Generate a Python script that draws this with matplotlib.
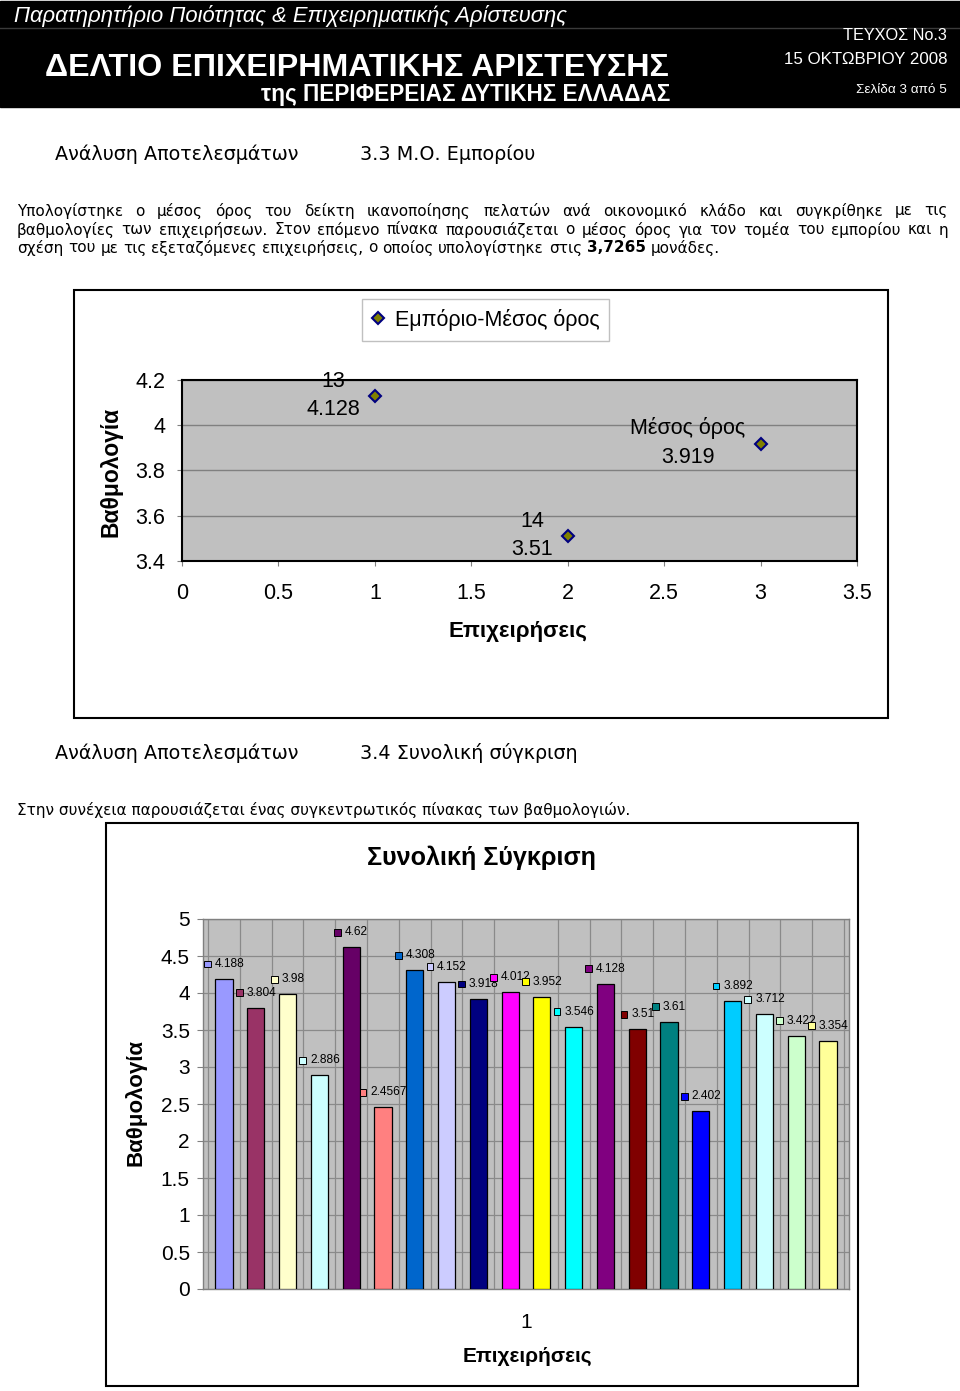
import numpy as np
import matplotlib
matplotlib.use('Agg')
import matplotlib.pyplot as plt
from matplotlib.patches import Rectangle
from matplotlib.lines import Line2D
from matplotlib.offsetbox import DrawingArea, TextArea, HPacker, AnnotationBbox

# ---------------- data ----------------
# chart 1 (scatter)
scatter_x = [1, 2, 3]
scatter_y = [4.128, 3.51, 3.919]
scatter_names = ["13", "14", "Μέσος όρος"]
scatter_value_labels = ["4.128", "3.51", "3.919"]
scatter_series = "Εμπόριο-Μέσος όρος"
c1_yticks = [3.4, 3.6, 3.8, 4.0, 4.2]
c1_ytick_labels = ["3.4", "3.6", "3.8", "4", "4.2"]
c1_xticks = [0, 0.5, 1, 1.5, 2, 2.5, 3, 3.5]
c1_xtick_labels = ["0", "0.5", "1", "1.5", "2", "2.5", "3", "3.5"]

# chart 2 (bars)
bar_values = [4.188, 3.804, 3.98, 2.886, 4.62, 2.4567, 4.308, 4.152, 3.918, 4.012,
              3.952, 3.546, 4.128, 3.51, 3.61, 2.402, 3.892, 3.712, 3.422, 3.354]
bar_labels = ["4.188", "3.804", "3.98", "2.886", "4.62", "2.4567", "4.308", "4.152", "3.918", "4.012",
              "3.952", "3.546", "4.128", "3.51", "3.61", "2.402", "3.892", "3.712", "3.422", "3.354"]
bar_colors = ["#9999FF", "#993366", "#FFFFCC", "#CCFFFF", "#660066", "#FF8080", "#0066CC", "#CCCCFF",
              "#000080", "#FF00FF", "#FFFF00", "#00FFFF", "#800080", "#800000", "#008080", "#0000FF",
              "#00CCFF", "#CCFFFF", "#CCFFCC", "#FFFF99"]
c2_yticks = [0, 0.5, 1, 1.5, 2, 2.5, 3, 3.5, 4, 4.5, 5]
c2_ytick_labels = ["0", "0.5", "1", "1.5", "2", "2.5", "3", "3.5", "4", "4.5", "5"]
c2_category = "1"

# ---------------- page setup ----------------
W, H, DPI = 960, 1391, 100
CHART = ['Liberation Sans', 'DejaVu Sans']
BODY = ['DejaVu Sans']
plt.rcParams['font.family'] = CHART

fig = plt.figure(figsize=(W / DPI, H / DPI), dpi=DPI)
fig.patch.set_facecolor('white')
renderer = fig.canvas.get_renderer()


def fx(x):
    return x / W


def fy(y):
    return 1 - y / H


def put(x, y, s, size, ha='left', va='center', target=None, **kw):
    t = fig.text(fx(x), fy(y), s, fontsize=size, ha=ha, va=va, **kw)
    if target:
        w = t.get_window_extent(renderer).width
        t.set_fontsize(size * target / w)
    return t


def box(x0, y0, x1, y1, **kw):
    fig.add_artist(Rectangle((fx(x0), fy(y1)), (x1 - x0) / W, (y1 - y0) / H,
                             transform=fig.transFigure, **kw))


# ---------------- header ----------------
box(0, 1, 960, 107, color='black', zorder=0)
fig.add_artist(Line2D([0, 1], [fy(28), fy(28)], transform=fig.transFigure, color='#3a3a3a', lw=1))
put(14, 16, "Παρατηρητήριο Ποιότητας & Επιχειρηματικής Αρίστευσης", 14, style='italic',
    color='white', family=CHART, target=554)
put(45, 68, "ΔΕΛΤΙΟ ΕΠΙΧΕΙΡΗΜΑΤΙΚΗΣ ΑΡΙΣΤΕΥΣΗΣ", 20, weight='bold', color='white',
    family=CHART, target=625)
put(670, 95, "της ΠΕΡΙΦΕΡΕΙΑΣ ΔΥΤΙΚΗΣ ΕΛΛΑΔΑΣ", 14, ha='right', weight='bold', color='white',
    family=CHART, target=410)
put(947, 36, "ΤΕΥΧΟΣ No.3", 12, ha='right', color='white', family=CHART, target=104)
put(947, 60, "15 ΟΚΤΩΒΡΙΟΥ 2008", 12, ha='right', color='white', family=CHART, target=164)
put(947, 90, "Σελίδα 3 από 5", 9, ha='right', color='white', family=CHART, target=90)

# ---------------- section texts ----------------
h = put(55, 154, "Ανάλυση Αποτελεσμάτων", 14, family=BODY, target=245)
hs = h.get_fontsize()
put(360, 154, "3.3 Μ.Ο. Εμπορίου", hs, family=BODY)
put(55, 753, "Ανάλυση Αποτελεσμάτων", hs, family=BODY)
put(360, 753, "3.4 Συνολική σύγκριση", hs, family=BODY)

b = put(17, 810, "Στην συνέχεια παρουσιάζεται ένας συγκεντρωτικός πίνακας των βαθμολογιών.",
        10, family=BODY, target=611)
bs = b.get_fontsize()


def line_words(y, words, x0, x1=None, bold=()):
    texts, widths = [], []
    for w in words:
        t = fig.text(0, fy(y), w, fontsize=bs, family=BODY, va='center',
                     weight='bold' if w in bold else 'normal')
        texts.append(t)
        widths.append(t.get_window_extent(renderer).width)
    if x1 is None:
        gap = bs * 0.318 * DPI / 72
    else:
        gap = (x1 - x0 - sum(widths)) / (len(words) - 1)
    x = x0
    for t, w in zip(texts, widths):
        t.set_x(fx(x))
        x += w + gap


line_words(211, "Υπολογίστηκε ο μέσος όρος του δείκτη ικανοποίησης πελατών ανά οικονομικό κλάδο και συγκρίθηκε με τις".split(), 17, 948)
line_words(230, "βαθμολογίες των επιχειρήσεων. Στον επόμενο πίνακα παρουσιάζεται ο μέσος όρος για τον τομέα του εμπορίου και η".split(), 17, 948)
line_words(248, "σχέση του με τις εξεταζόμενες επιχειρήσεις, ο οποίος υπολογίστηκε στις  3,7265 μονάδες.".split(), 17,
           bold=("3,7265",))

# ---------------- chart 1 ----------------
box(74, 290, 888, 718, fill=False, ec='black', lw=1.5)
ax1 = fig.add_axes([fx(182), fy(561), (857 - 182) / W, (561 - 380) / H])
ax1.set_facecolor('#C0C0C0')
ax1.set_xlim(0, 3.5)
ax1.set_ylim(3.4, 4.2)
ax1.set_yticks(c1_yticks, c1_ytick_labels)
ax1.set_xticks(c1_xticks, c1_xtick_labels)
ax1.yaxis.grid(True, color='#808080', lw=1)
ax1.set_axisbelow(True)
for sp in ax1.spines.values():
    sp.set_color('black')
    sp.set_linewidth(1.5)
ax1.tick_params(axis='y', direction='out', length=3.6, color='#808080', labelsize=15.5, pad=8.5)
ax1.tick_params(axis='x', direction='out', length=3.6, color='#808080', labelsize=15.5, pad=12.5)
ax1.plot(scatter_x, scatter_y, ls='none', marker='D', ms=6.5, mfc='#808000', mec='#000080',
         mew=1.5, zorder=5, label=scatter_series, clip_on=False)
for x, y, n, vl in zip(scatter_x, scatter_y, scatter_names, scatter_value_labels):
    ax1.annotate(n + "\n" + vl, xy=(x, y), xytext=(-15, 1), textcoords='offset pixels',
                 ha='right', va='center', multialignment='center', fontsize=15.5,
                 linespacing=1.45, zorder=6)
leg = ax1.legend(loc='center', bbox_to_anchor=(fx(485.5), fy(320)), bbox_transform=fig.transFigure,
                 frameon=True, fancybox=False, edgecolor='#c0c0c0', fontsize=15.5,
                 handlelength=0.6, handletextpad=0.5, borderpad=0.45, framealpha=1, borderaxespad=0)
put(518, 632, "Επιχειρήσεις", 16, ha='center', weight='bold', family=CHART, target=139)
put(111, 472, "Βαθμολογία", 16.5, ha='center', weight='bold', rotation=90, family=CHART)

# ---------------- chart 2 ----------------
box(106, 823, 858, 1386, fill=False, ec='black', lw=1.5)
ax2 = fig.add_axes([fx(203), fy(1289), (849 - 203) / W, (1289 - 919) / H])
ax2.set_facecolor('#C0C0C0')
bar_x = np.arange(len(bar_values))
ax2.bar(bar_x, bar_values, width=0.54, color=bar_colors, edgecolor='black', linewidth=0.9, zorder=3)
ax2.set_xlim(-0.66, len(bar_values) - 1 + 0.66)
ax2.set_ylim(0, 5)
ax2.set_yticks(c2_yticks, c2_ytick_labels)
ax2.set_xticks([(len(bar_values) - 1) / 2], [c2_category])
ax2.set_xticks(np.arange(-0.5, len(bar_values), 1), minor=True)
ax2.yaxis.grid(True, color='#8a8a8a', lw=0.9)
ax2.xaxis.grid(True, which='minor', color='#8a8a8a', lw=0.9)
ax2.set_axisbelow(True)
for sp in ax2.spines.values():
    sp.set_color('#808080')
    sp.set_linewidth(1)
ax2.tick_params(axis='y', direction='out', length=4.5, color='#808080', labelsize=15, pad=5)
ax2.tick_params(axis='x', which='major', length=0, labelsize=15, pad=17)
ax2.tick_params(axis='x', which='minor', length=0)
for xi, v, lab, col in zip(bar_x, bar_values, bar_labels, bar_colors):
    da = DrawingArea(5.5, 5.5, 0, 0)
    da.add_artist(Rectangle((0.3, 0.3), 4.9, 4.9, fc=col, ec='black', lw=0.7))
    ta = TextArea(lab, textprops=dict(fontsize=8.6, family=CHART))
    pack = HPacker(children=[da, ta], align='center', pad=0, sep=2.5)
    ab = AnnotationBbox(pack, (xi, v), xybox=(0, 15), xycoords='data', boxcoords='offset pixels',
                        frameon=False, box_alignment=(0.5, 0.5), pad=0, annotation_clip=False,
                        zorder=6)
    ax2.add_artist(ab)
put(481, 858, "Συνολική Σύγκριση", 17, ha='center', weight='bold', family=CHART, target=229)
put(527, 1356, "Επιχειρήσεις", 15, ha='center', weight='bold', family=CHART, target=130)
put(135, 1103, "Βαθμολογία", 16, ha='center', weight='bold', rotation=90, family=CHART)

fig.savefig('out.png', dpi=DPI)
